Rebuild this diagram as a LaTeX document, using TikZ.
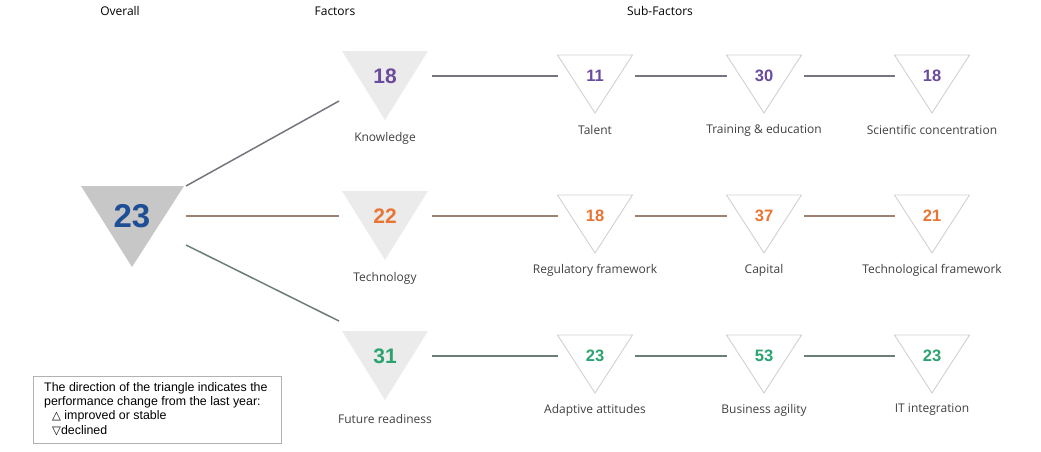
\documentclass[tikz,border=0pt]{standalone}
\usepackage{fontspec}
\setmainfont{Open Sans}
\newfontfamily\arialf{Liberation Sans}
\newfontfamily\symf{DejaVu Sans}
\definecolor{cpurple}{HTML}{6A4C9C}
\definecolor{corange}{HTML}{EA7433}
\definecolor{cgreen}{HTML}{2AA36F}
\definecolor{cblue}{HTML}{1E4E96}
\definecolor{lpurple}{HTML}{76757F}
\definecolor{lbrown}{HTML}{9C8273}
\definecolor{lgreen}{HTML}{6C7E7A}
\definecolor{tgray}{HTML}{404040}
\tikzset{
  hdr/.style={font=\fontsize{12}{14}\selectfont, text=black},
  lbl/.style={font=\fontsize{12}{14}\selectfont, text=tgray},
  fnum/.style={font=\arialf\bfseries\fontsize{21}{23}\selectfont},
  snum/.style={font=\arialf\bfseries\fontsize{16.5}{19}\selectfont},
  subtri/.style={draw=black!18, fill=white, line width=0.9pt},
  factri/.style={fill=black!8},
  conn/.style={line width=1.5pt}
}
\newcommand{\subT}[6]{% name, cx, top, number, color, label
  \draw[subtri] (#2-37.5,#3) -- (#2+37.5,#3) -- (#2,#3+58) -- cycle;
  \coordinate (#1W) at (#2-37,#3+21);
  \coordinate (#1E) at (#2+40,#3+21);
  \node[snum, text=#5] (#1n) at (#2,#3+21) {#4};
  \node[lbl] (#1l) at (#2,#3+75) {#6};
}
\newcommand{\facT}[6]{% name, cx, top, number, color, label
  \fill[factri] (#2-43,#3) -- (#2+43,#3) -- (#2,#3+69) -- cycle;
  \coordinate (#1E) at (#2+47,#3+25);
  \node[fnum, text=#5] (#1n) at (#2,#3+25) {#4};
  \node[lbl] (#1l) at (#2,#3+87.5) {#6};
}
\begin{document}
\begin{tikzpicture}[x=1pt,y=-1pt]
\useasboundingbox (0,0) rectangle (1041,451);
\node[hdr] (h1) at (120,11) {Overall};
\node[hdr] (h2) at (335,11) {Factors};
\node[hdr] (h3) at (660,11) {Sub-Factors};
% overall
\fill[black!22] (81,186) -- (184,186) -- (132,267) -- cycle;
\node[font=\arialf\bfseries\fontsize{33}{35}\selectfont, text=cblue] (ov) at (132,216) {23};
\coordinate (ovA) at (186,186);
\coordinate (ovB) at (186,216);
\coordinate (ovC) at (186,245);
% factors
\facT{k}{385}{51}{18}{cpurple}{Knowledge}
\facT{t}{385}{191}{22}{corange}{Technology}
\facT{f}{385}{331}{31}{cgreen}{Future readiness}
\coordinate (kW) at (339,101);
\coordinate (tW) at (339,216);
\coordinate (fW) at (339,321);
\draw[conn, lpurple] (ovA) -- (kW);
\draw[conn, lbrown] (ovB) -- (tW);
\draw[conn, lgreen] (ovC) -- (fW);
% row 1
\subT{a1}{595}{55}{11}{cpurple}{Talent}
\subT{a2}{764}{55}{30}{cpurple}{Training \& education}
\subT{a3}{932}{55}{18}{cpurple}{Scientific concentration}
\draw[conn, lpurple] (kE) -- (a1W);
\draw[conn, lpurple] (a1E) -- (a2W);
\draw[conn, lpurple] (a2E) -- (a3W);
% row 2
\subT{b1}{595}{195}{18}{corange}{Regulatory framework}
\subT{b2}{764}{195}{37}{corange}{Capital}
\subT{b3}{932}{195}{21}{corange}{Technological framework}
\draw[conn, lbrown] (tE) -- (b1W);
\draw[conn, lbrown] (b1E) -- (b2W);
\draw[conn, lbrown] (b2E) -- (b3W);
% row 3
\subT{c1}{595}{335}{23}{cgreen}{Adaptive attitudes}
\subT{c2}{764}{335}{53}{cgreen}{Business agility}
\subT{c3}{932}{335}{23}{cgreen}{IT integration}
\draw[conn, lgreen] (fE) -- (c1W);
\draw[conn, lgreen] (c1E) -- (c2W);
\draw[conn, lgreen] (c2E) -- (c3W);
% legend
\draw[black!30, line width=0.8pt] (33,376) rectangle (281,443);
\node[anchor=north west, align=left, inner sep=0pt, font=\arialf\fontsize{12.4}{14.4}\selectfont, text=black] (leg) at (44,382)
{The direction of the triangle indicates the\\performance change from the last year:\\
\hspace*{8pt}{\symf\fontsize{11.5}{13}\selectfont △} improved or stable\\
\hspace*{8pt}{\symf\fontsize{11.5}{13}\selectfont ▽}declined};
\end{tikzpicture}
\end{document}
